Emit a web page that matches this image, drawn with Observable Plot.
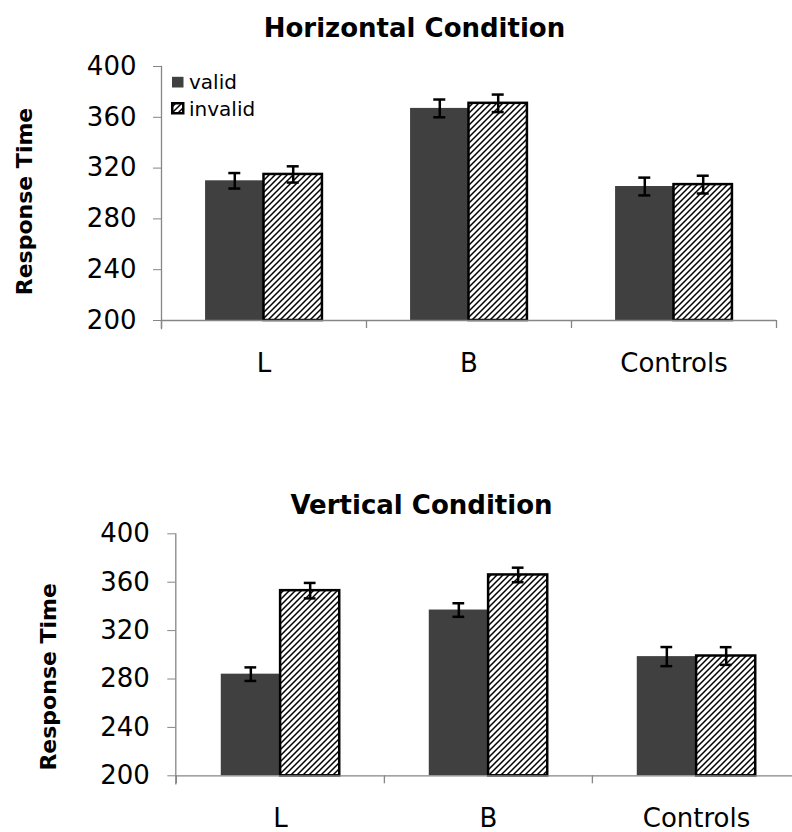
<!DOCTYPE html>
<html><head><meta charset="utf-8">
<script src="https://cdn.jsdelivr.net/npm/d3@7"></script>
<script src="https://cdn.jsdelivr.net/npm/@observablehq/plot@0.6"></script>
<style>
body{margin:0;background:#fff;font-family:"DejaVu Sans",Verdana,sans-serif;}
#root{position:relative;width:792px;height:832px;overflow:hidden;background:#fff;}
.panel{position:absolute;left:0;width:792px;overflow:hidden;}
.panel svg{display:block;overflow:hidden;}
.lg{position:absolute;font:20px "DejaVu Sans",Verdana,sans-serif;color:#000;line-height:24px;white-space:nowrap;}
</style></head><body>
<svg width="0" height="0" style="position:absolute"><defs>
<pattern id="hatch" patternUnits="userSpaceOnUse" width="6" height="6">
<rect width="6" height="6" fill="#fff"/>
<path d="M-1,1 L1,-1 M0,6 L6,0 M5,7 L7,5" stroke="#000" stroke-width="1.5" fill="none"/>
</pattern></defs></svg>
<div id="root"></div>
<script>
// ---- data ----
const categories = ["L", "B", "Controls"];
const series = ["valid", "invalid"];
const yTicks = [200, 240, 280, 320, 360, 400];
const titles = ["Horizontal Condition", "Vertical Condition"];
const yLabel = "Response Time";

const hValid = [310, 367, 305.5];
const hInvalid = [315, 371, 307];
const hValidErr = [6.1, 7, 7];
const hInvalidErr = [6.4, 6.9, 7];

const vValid = [284, 337, 298.5];
const vInvalid = [353, 366, 299];
const vValidErr = [5.6, 5.6, 7.9];
const vInvalidErr = [6.4, 6, 7.3];

const axisGray = "#868686";
const validFill = "#404040";

function rowsOf(vals, errs) {
  return categories.map((c, i) => ({cat: c, value: vals[i], err: errs[i]}));
}

function chart(cfg) {
  const {valid, invalid, title, height, mTop, mLeft, mRight, mBottom, yRange, xRange,
         tickPad, titleDx, titleDy, labDx, labDy} = cfg;
  const x0 = xRange ? xRange[0] : mLeft;
  const x1 = xRange ? xRange[1] : 792 - mRight;
  const bw = (x1 - x0) / categories.length;
  const outer = 0.215 * bw;
  const off = (0.5 - 0.215) / 2 * bw;
  const capHalf = 6;
  const frameH = (height - mBottom) - mTop;
  const errMarks = (rows, sign) => [
    Plot.ruleX(rows, {x: "cat", y1: d => d.value - d.err, y2: d => d.value + d.err, dx: sign * off, stroke: "#000", strokeWidth: 2.5}),
    Plot.tickY(rows, {x: "cat", y: d => d.value + d.err, dx: sign * off, insetLeft: bw / 2 - capHalf, insetRight: bw / 2 - capHalf, stroke: "#000", strokeWidth: 2.5}),
    Plot.tickY(rows, {x: "cat", y: d => d.value - d.err, dx: sign * off, insetLeft: bw / 2 - capHalf, insetRight: bw / 2 - capHalf, stroke: "#000", strokeWidth: 2.5})
  ];
  return Plot.plot({
    width: 792, height,
    marginTop: mTop, marginLeft: mLeft, marginRight: mRight, marginBottom: mBottom,
    style: {fontFamily: "DejaVu Sans, Verdana, sans-serif", background: "#fff", overflow: "hidden"},
    x: {type: "band", domain: categories, padding: 0, ...(xRange ? {range: xRange} : {})},
    y: {domain: [yTicks[0], yTicks[yTicks.length - 1]], range: yRange},
    marks: [
      Plot.barY(valid, {x: "cat", y1: () => yTicks[0], y2: "value", fill: validFill, insetLeft: outer, insetRight: bw / 2}),
      Plot.barY(invalid, {x: "cat", y1: () => yTicks[0], y2: "value", fill: "url(#hatch)", stroke: "#000", strokeWidth: 2.5, insetLeft: bw / 2, insetRight: outer}),
      ...errMarks(valid, -1),
      ...errMarks(invalid, 1),
      Plot.ruleY([yTicks[0]], {stroke: axisGray, strokeWidth: 1.3}),
      Plot.frame({anchor: "left", stroke: axisGray, strokeWidth: 1.3}),
      Plot.tickX(categories, {x: d => d, dx: -bw / 2, insetTop: frameH - 8, stroke: axisGray, strokeWidth: 1.3}),
      Plot.tickX(categories.slice(-1), {x: d => d, dx: bw / 2, insetTop: frameH - 8, stroke: axisGray, strokeWidth: 1.3}),
      Plot.axisY(yTicks, {tickSize: 8, tickPadding: tickPad, fontSize: 26, stroke: axisGray, fill: "#000", label: null}),
      Plot.axisX({tickSize: 0, tickPadding: 25, fontSize: 26, fill: "#000", label: null}),
      Plot.text([title], {frameAnchor: "top", textAnchor: "middle", lineAnchor: "middle", dx: titleDx, dy: titleDy, fontSize: 26, fontWeight: "bold", fill: "#000"}),
      Plot.text([yLabel], {frameAnchor: "left", textAnchor: "middle", lineAnchor: "middle", rotate: -90, dx: labDx, dy: labDy, fontSize: 22, fontWeight: "bold", fill: "#000"})
    ]
  });
}

const root = document.getElementById("root");

function addPanel(svg, top, height) {
  const div = document.createElement("div");
  div.className = "panel";
  div.style.top = top + "px";
  div.style.height = height + "px";
  div.appendChild(svg);
  root.appendChild(div);
}

addPanel(chart({
  valid: rowsOf(hValid, hValidErr), invalid: rowsOf(hInvalid, hInvalidErr),
  title: titles[0], height: 400, mTop: 66, mLeft: 161, mRight: 16, mBottom: 72,
  yRange: [320, 66], tickPad: 17, titleDx: -54.5, titleDy: -38, labDx: -137, labDy: 4
}), 0, 400);

addPanel(chart({
  valid: rowsOf(vValid, vValidErr), invalid: rowsOf(vInvalid, vInvalidErr),
  title: titles[1], height: 432, mTop: 133.3, mLeft: 175.3, mRight: 0, mBottom: 48.7,
  yRange: [375.3, 133.3], xRange: [175.3, 800], tickPad: 18, titleDx: -62.7, titleDy: -28.3, labDx: -127, labDy: 18
}), 400, 432);

// ---- legend (top chart) ----
series.forEach((s, i) => {
  const sw = document.createElementNS("http://www.w3.org/2000/svg", "svg");
  sw.setAttribute("width", 14); sw.setAttribute("height", 13);
  sw.style.position = "absolute";
  sw.style.left = "171px";
  sw.style.top = (i === 0 ? 75.5 : 102) + "px";
  if (i === 0) {
    sw.innerHTML = `<rect x="1" y="0.8" width="11.5" height="10.7" fill="${validFill}"/>`;
  } else {
    sw.innerHTML = `<rect x="1.25" y="1.25" width="11" height="10" fill="url(#hatch)" stroke="#000" stroke-width="2.5"/>`;
  }
  root.appendChild(sw);
  const t = document.createElement("div");
  t.className = "lg";
  t.textContent = s;
  t.style.left = "189px";
  t.style.top = (i === 0 ? 69.7 : 97.3) + "px";
  root.appendChild(t);
});
</script>
</body></html>
